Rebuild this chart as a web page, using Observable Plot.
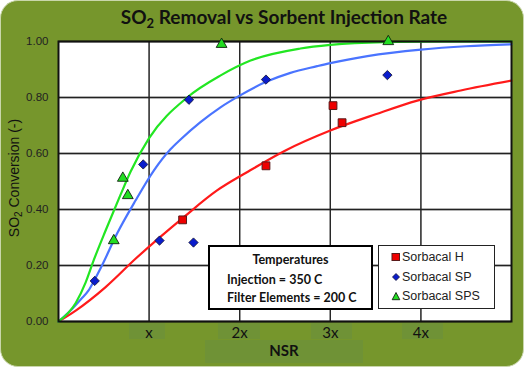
<!DOCTYPE html>
<html><head><meta charset="utf-8">
<script src="https://cdn.jsdelivr.net/npm/d3@7"></script>
<script src="https://cdn.jsdelivr.net/npm/@observablehq/plot@0.6"></script>
<style>
html,body{margin:0;padding:0;background:#fff;}
#wrap{position:relative;width:524px;height:367px;overflow:hidden;}
#bg{position:absolute;left:0;top:0;width:522px;height:365px;background:#76962c;border:1px solid #c9d6ab;border-radius:18px;}
.ov{position:absolute;white-space:nowrap;}
#title{left:0;width:568px;top:5px;text-align:center;font:700 19px Lato,"Open Sans",sans-serif;color:#111;}
#ylab{left:15px;top:178px;transform:translate(-50%,-50%) rotate(-90deg);font:14px "Liberation Sans",Arial,sans-serif;color:#111;}
.lbox{position:absolute;background:#6f9236;}
#nsr{left:0;width:568px;top:341px;text-align:center;font:700 15px Lato,"Open Sans",sans-serif;color:#111;}
#temps{left:208px;top:245px;width:161px;height:61px;background:#fff;border:2px solid #000;font:700 12.5px Lato,"Open Sans",sans-serif;color:#111;}
#legend{left:378px;top:245px;width:115px;height:62px;background:#fff;border:1.5px solid #222;font:12.5px "Liberation Sans",Arial,sans-serif;color:#222;}
</style></head>
<body><div id="wrap"><div id="bg"></div>
<div class="lbox" style="left:129px;top:323px;width:36px;height:16px"></div>
<div class="lbox" style="left:218px;top:323px;width:42px;height:16px"></div>
<div class="lbox" style="left:311px;top:323px;width:41px;height:16px"></div>
<div class="lbox" style="left:402px;top:323px;width:41px;height:16px"></div>
<div class="lbox" style="left:205px;top:340px;width:158px;height:23px"></div>
<div id="chart" class="ov" style="left:0;top:0"></div>
<div id="title" class="ov">SO<sub style="font-size:13px;vertical-align:-4px">2</sub> Removal vs Sorbent Injection Rate</div>
<div id="ylab" class="ov">SO<sub style="font-size:10px;vertical-align:-3px">2</sub> Conversion (-)</div>
<div id="nsr" class="ov">NSR</div>
<div id="temps" class="ov">
  <div style="position:absolute;left:0;width:161px;top:5px;text-align:center">Temperatures</div>
  <div style="position:absolute;left:17px;top:25px">Injection = 350 C</div>
  <div style="position:absolute;left:17px;top:43px">Filter Elements = 200 C</div>
</div>
<div id="legend" class="ov"></div>
</div>
<script>
// Curves
const redCurveX = [0, 0.19, 0.52, 0.85, 1.38, 1.75, 2.08, 2.5, 3.0, 3.5, 3.96, 4.44, 5.0];
const redCurveY = [0, 0.039, 0.123, 0.224, 0.372, 0.468, 0.533, 0.61, 0.682, 0.74, 0.789, 0.825, 0.86];
const blueCurveX = [0, 0.15, 0.25, 0.33, 0.40, 0.48, 0.648, 0.85, 1.052, 1.236, 1.347, 1.567, 1.788, 1.99, 2.285, 2.56, 2.855, 3.0, 3.41, 4.0, 4.5, 5.0];
const blueCurveY = [0, 0.045, 0.08, 0.11, 0.15, 0.2, 0.315, 0.432, 0.539, 0.615, 0.65, 0.712, 0.765, 0.805, 0.855, 0.888, 0.912, 0.923, 0.948, 0.971, 0.983, 0.99];
const greenCurveX = [0, 0.19, 0.30, 0.39, 0.52, 0.684, 0.795, 1.0, 1.42, 1.79, 2.12, 2.67, 3.0, 3.59, 4.2, 5.0];
const greenCurveY = [0, 0.066, 0.14, 0.22, 0.325, 0.452, 0.535, 0.655, 0.80, 0.879, 0.932, 0.975, 0.988, 0.998, 1.0, 1.0];
// Measured points
const hX = [1.37, 2.29, 3.03, 3.13];
const hY = [0.363, 0.556, 0.771, 0.71];
const spX = [0.40, 0.935, 1.115, 1.49, 1.44, 2.29, 3.63];
const spY = [0.145, 0.561, 0.289, 0.282, 0.792, 0.864, 0.88];
const spsX = [0.61, 0.71, 0.765, 1.80, 3.64];
const spsY = [0.289, 0.512, 0.45, 0.99, 1.0];
// Ticks
const xTicks = [1, 2, 3, 4];
const xTickLabels = ["x", "2x", "3x", "4x"];
const yTicks = [0, 0.2, 0.4, 0.6, 0.8, 1.0];
const seriesNames = ["Sorbacal H", "Sorbacal SP", "Sorbacal SPS"];

const RED = "#ff1a1a", BLUE = "#4a74ff", GREEN = "#22e622";
const pts = (xs, ys) => xs.map((x, i) => ({x, y: ys[i]}));

const chart = Plot.plot({
  width: 524, height: 367,
  marginLeft: 58, marginRight: 13, marginTop: 41, marginBottom: 46,
  style: {background: "transparent", overflow: "visible"},
  x: {domain: [0, 5], axis: null},
  y: {domain: [0, 1], axis: null},
  marks: [
    Plot.frame({fill: "white"}),
    Plot.ruleX(xTicks, {stroke: "#a0a0a0", strokeWidth: 1.3}),
    Plot.ruleY(yTicks.slice(1, -1), {stroke: "#8a8a8a", strokeWidth: 1.3}),
    Plot.tickX(xTicks, {x: d => d, y1: 0, y2: 0.025, stroke: "#222", strokeWidth: 1.3}),
    Plot.tickY(yTicks, {y: d => d, x1: -0.03, x2: 0.025, stroke: "#222", strokeWidth: 1.3}),
    Plot.text(yTicks, {x: 0, y: d => d, text: d => d.toFixed(2), dx: -10, textAnchor: "end", fontSize: 11.5, fill: "#222", fontFamily: "Liberation Sans, Arial, sans-serif"}),
    Plot.text(xTicks, {x: d => d, y: 0, text: (d, i) => xTickLabels[i], dy: 12, fontSize: 15, fill: "#111", fontFamily: "Lato, sans-serif"}),
    Plot.line(pts(redCurveX, redCurveY), {x: "x", y: "y", stroke: RED, strokeWidth: 2.2, curve: "monotone-x"}),
    Plot.line(pts(blueCurveX, blueCurveY), {x: "x", y: "y", stroke: BLUE, strokeWidth: 2.2, curve: "monotone-x"}),
    Plot.line(pts(greenCurveX, greenCurveY), {x: "x", y: "y", stroke: GREEN, strokeWidth: 2.2, curve: "monotone-x"}),
    Plot.frame({stroke: "#111", strokeWidth: 2}),
    Plot.dot(pts(hX, hY), {x: "x", y: "y", symbol: "square", r: 4.4, fill: "#ee0000", stroke: "#5a1a1a", strokeWidth: 1}),
    Plot.dot(pts(spX, spY), {x: "x", y: "y", symbol: "diamond2", r: 4.2, fill: "#0a1ccc", stroke: "#101030", strokeWidth: 0.8}),
    Plot.dot(pts(spsX, spsY), {x: "x", y: "y", symbol: "triangle", r: 4, fill: "#22dd22", stroke: "#102010", strokeWidth: 0.9})
  ]
});
document.getElementById("chart").appendChild(chart);

const icons = [
  '<svg width="10" height="10"><rect x="1" y="1.5" width="7.5" height="7" fill="#ee0000" stroke="#5a1a1a"/></svg>',
  '<svg width="10" height="10"><path d="M5 1.5L8.5 5L5 8.5L1.5 5Z" fill="#0a1ccc" stroke="#101030" stroke-width="0.8"/></svg>',
  '<svg width="10" height="10"><path d="M5 1.5L8.8 8.7L1.2 8.7Z" fill="#22dd22" stroke="#102010" stroke-width="0.9"/></svg>'
];
const leg = document.getElementById("legend");
seriesNames.forEach((n, i) => {
  const d = document.createElement("div");
  d.style.cssText = `position:absolute;left:12px;top:${4 + i * 19.5}px;display:flex;align-items:center;gap:1px`;
  d.innerHTML = icons[i] + `<span>${n}</span>`;
  leg.appendChild(d);
});
</script></body></html>
